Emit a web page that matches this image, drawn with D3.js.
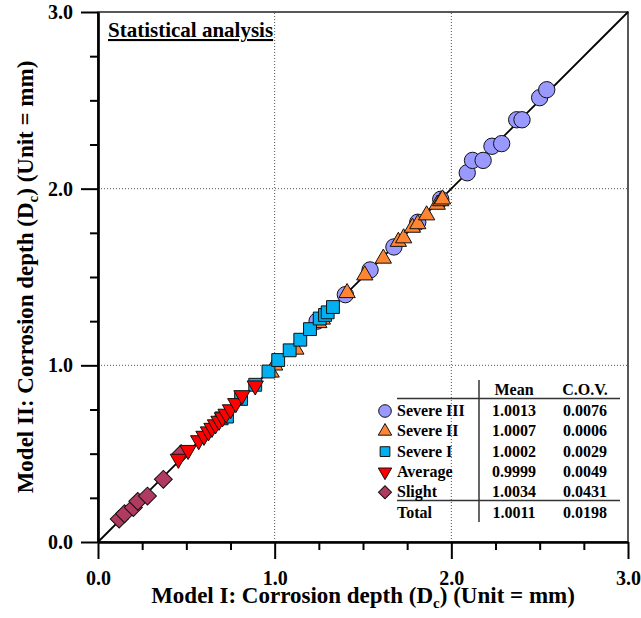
<!DOCTYPE html>
<html>
<head>
<meta charset="utf-8">
<script src="https://cdn.jsdelivr.net/npm/d3@7"></script>
<style>
  body { margin: 0; background: #fff; }
  svg text { font-family: "Liberation Serif", "Times New Roman", serif; font-weight: bold; fill: #000; }
</style>
</head>
<body>
<script>
// data (Model I depth, Model II depth)
var severe3X = [1.24, 1.40, 1.54, 1.675, 1.81, 1.94, 2.09, 2.12, 2.18, 2.23, 2.285, 2.37, 2.40, 2.50, 2.54];
var severe3Y = [1.25, 1.40, 1.54, 1.67, 1.81, 1.94, 2.09, 2.16, 2.16, 2.24, 2.255, 2.39, 2.39, 2.515, 2.56];

var severe2X = [0.98, 1.00, 1.12, 1.25, 1.27, 1.41, 1.51, 1.615, 1.70, 1.73, 1.78, 1.81, 1.86, 1.92, 1.94, 1.95];
var severe2Y = [0.96, 1.00, 1.09, 1.24, 1.26, 1.41, 1.51, 1.605, 1.70, 1.72, 1.78, 1.80, 1.85, 1.91, 1.93, 1.94];

var severe1X = [0.70, 0.73, 0.81, 0.89, 0.965, 1.02, 1.085, 1.145, 1.20, 1.255, 1.285, 1.30, 1.33];
var severe1Y = [0.70, 0.71, 0.81, 0.89, 0.965, 1.03, 1.085, 1.145, 1.205, 1.265, 1.285, 1.30, 1.33];

var averageX = [0.455, 0.51, 0.57, 0.60, 0.625, 0.645, 0.665, 0.685, 0.705, 0.725, 0.75, 0.78, 0.815, 0.89];
var averageY = [0.47, 0.52, 0.575, 0.60, 0.625, 0.645, 0.665, 0.685, 0.705, 0.725, 0.75, 0.785, 0.83, 0.885];

var slightX = [0.12, 0.15, 0.20, 0.225, 0.28, 0.37, 0.47];
var slightY = [0.13, 0.16, 0.195, 0.23, 0.26, 0.355, 0.50];

// legend table
var classNames = ["Severe III", "Severe II", "Severe I", "Average", "Slight"];
var meanVals = ["1.0013", "1.0007", "1.0002", "0.9999", "1.0034"];
var covVals = ["0.0076", "0.0006", "0.0029", "0.0049", "0.0431"];
var totalMean = "1.0011", totalCov = "0.0198";

var majorTicks = [0, 1, 2, 3];
var minorTicks = [0.25, 0.5, 0.75, 1.25, 1.5, 1.75, 2.25, 2.5, 2.75];

var width = 641, height = 618;
var svg = d3.select("body").append("svg")
    .attr("width", width)
    .attr("height", height);

var x = d3.scaleLinear().domain([0, 3]).range([98, 628]);
var y = d3.scaleLinear().domain([0, 3]).range([542, 12]);

// frame (top/right)
svg.append("rect")
    .attr("x", x(0)).attr("y", y(3))
    .attr("width", x(3) - x(0)).attr("height", y(0) - y(3))
    .attr("fill", "none").attr("stroke", "#222").attr("stroke-width", 1.5);

// dotted grid
[1, 2].forEach(function(v){
    svg.append("line").attr("x1", x(v)).attr("x2", x(v)).attr("y1", y(0)).attr("y2", y(3))
        .attr("stroke", "#555").attr("stroke-width", 1).attr("stroke-dasharray", "1,2");
    svg.append("line").attr("x1", x(0)).attr("x2", x(3)).attr("y1", y(v)).attr("y2", y(v))
        .attr("stroke", "#555").attr("stroke-width", 1).attr("stroke-dasharray", "1,2");
});

// axes
svg.append("g").attr("transform", "translate(0," + y(0) + ")")
    .call(d3.axisBottom(x).tickValues(majorTicks).tickFormat(d3.format(".1f"))
        .tickSize(17).tickSizeOuter(0).tickPadding(12));
svg.append("g").attr("transform", "translate(0," + y(0) + ")")
    .call(d3.axisBottom(x).tickValues(minorTicks).tickFormat("").tickSize(8).tickSizeOuter(0));
svg.append("g").attr("transform", "translate(" + x(0) + ",0)")
    .call(d3.axisLeft(y).tickValues(majorTicks).tickFormat(d3.format(".1f"))
        .tickSize(17).tickSizeOuter(0).tickPadding(8));
svg.append("g").attr("transform", "translate(" + x(0) + ",0)")
    .call(d3.axisLeft(y).tickValues(minorTicks).tickFormat("").tickSize(8).tickSizeOuter(0));

svg.selectAll(".domain").attr("stroke", "#000").attr("stroke-width", 2.2);
svg.selectAll(".tick line").attr("stroke", "#000").attr("stroke-width", 2);
svg.selectAll(".tick text").style("font-size", "20px")
    .style("font-family", "'Liberation Serif', serif").style("font-weight", "bold");

// 1:1 line
svg.append("line")
    .attr("x1", x(0)).attr("y1", y(0)).attr("x2", x(3)).attr("y2", y(3))
    .attr("stroke", "#000").attr("stroke-width", 1.8);

function zipXY(xs, ys){
    return xs.map(function(v, i){ return [v, ys[i]]; });
}

function drawSeries(data, type, size, fill, rot){
    svg.append("g").selectAll("path")
        .data(data)
        .enter()
        .append("path")
        .attr("d", d3.symbol().type(type).size(size))
        .attr("transform", function(d){
            return "translate(" + x(d[0]) + "," + y(d[1]) + ") rotate(" + rot + ")";
        })
        .attr("fill", fill)
        .attr("stroke", "#111")
        .attr("stroke-width", 1);
}

var colCircle = "#9999FF", colTri = "#FF8533", colSq = "#00B0F0", colRed = "#FF0000", colDia = "#B03A60";

drawSeries(zipXY(severe3X, severe3Y), d3.symbolCircle, 210, colCircle, 0);
drawSeries(zipXY(severe2X, severe2Y), d3.symbolTriangle, 115, colTri, 0);
drawSeries(zipXY(severe1X, severe1Y), d3.symbolSquare, 165, colSq, 0);
drawSeries(zipXY(slightX, slightY), d3.symbolSquare, 160, colDia, 45);
drawSeries(zipXY(averageX, averageY), d3.symbolTriangle, 115, colRed, 180);

// label top left
svg.append("text").attr("x", 108).attr("y", 37)
    .style("font-size", "21px").style("text-decoration", "underline")
    .text("Statistical analysis");

// axis titles
var xt = svg.append("text").attr("x", 363).attr("y", 603)
    .attr("text-anchor", "middle").style("font-size", "23px");
xt.append("tspan").text("Model I: Corrosion depth (D");
xt.append("tspan").attr("dy", 5).style("font-size", "15px").text("c");
xt.append("tspan").attr("dy", -5).text(") (Unit = mm)");

var yt = svg.append("text").attr("transform", "translate(33,277) rotate(-90)")
    .attr("text-anchor", "middle").style("font-size", "23px");
yt.append("tspan").text("Model II: Corrosion depth (D");
yt.append("tspan").attr("dy", 5).style("font-size", "15px").text("c");
yt.append("tspan").attr("dy", -5).text(") (Unit = mm)");

// legend table
var rowY = d3.scaleLinear().domain([0, 1]).range([416, 436.3]);
var leg = svg.append("g");
leg.append("line").attr("x1", 479).attr("x2", 479).attr("y1", 380).attr("y2", 522)
    .attr("stroke", "#000").attr("stroke-width", 1.2);
leg.append("line").attr("x1", 397).attr("x2", 620).attr("y1", 398.5).attr("y2", 398.5)
    .attr("stroke", "#333").attr("stroke-width", 1.5);
leg.append("line").attr("x1", 397).attr("x2", 620).attr("y1", 500.5).attr("y2", 500.5)
    .attr("stroke", "#333").attr("stroke-width", 1.5);
leg.append("text").attr("x", 514).attr("y", 395).attr("text-anchor", "middle")
    .style("font-size", "16px").text("Mean");
leg.append("text").attr("x", 585).attr("y", 395).attr("text-anchor", "middle")
    .style("font-size", "16px").text("C.O.V.");

var legSymbols = [
    [d3.symbolCircle, 125, colCircle, 0],
    [d3.symbolTriangle, 78, colTri, 0],
    [d3.symbolSquare, 95, colSq, 0],
    [d3.symbolTriangle, 78, colRed, 180],
    [d3.symbolSquare, 85, colDia, 45]
];

classNames.forEach(function(name, i){
    var yy = rowY(i);
    var s = legSymbols[i];
    leg.append("path")
        .attr("d", d3.symbol().type(s[0]).size(s[1]))
        .attr("transform", "translate(385," + (yy - 5) + ") rotate(" + s[3] + ")")
        .attr("fill", s[2]).attr("stroke", "#111").attr("stroke-width", 1);
    leg.append("text").attr("x", 397).attr("y", yy).style("font-size", "16px").text(name);
    leg.append("text").attr("x", 514).attr("y", yy).attr("text-anchor", "middle")
        .style("font-size", "16px").text(meanVals[i]);
    leg.append("text").attr("x", 585).attr("y", yy).attr("text-anchor", "middle")
        .style("font-size", "16px").text(covVals[i]);
});
leg.append("text").attr("x", 397).attr("y", 517.5).style("font-size", "16px").text("Total");
leg.append("text").attr("x", 514).attr("y", 517.5).attr("text-anchor", "middle")
    .style("font-size", "16px").text(totalMean);
leg.append("text").attr("x", 585).attr("y", 517.5).attr("text-anchor", "middle")
    .style("font-size", "16px").text(totalCov);
</script>
</body>
</html>
